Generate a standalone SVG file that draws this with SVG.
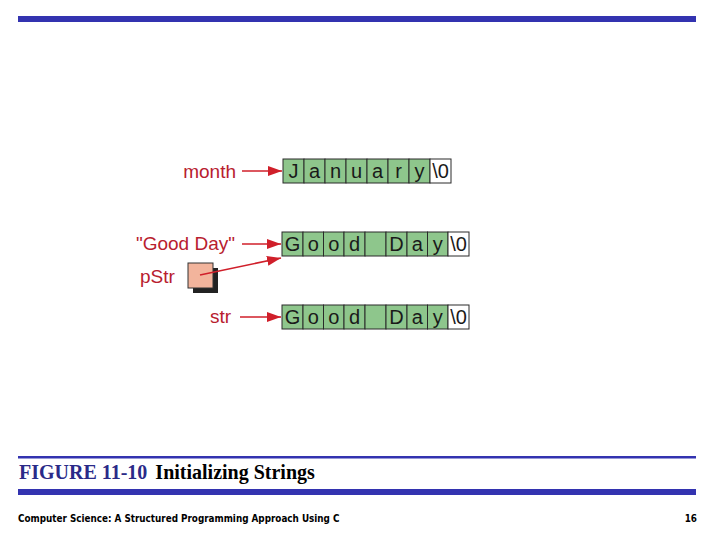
<svg xmlns="http://www.w3.org/2000/svg" width="720" height="540" viewBox="0 0 720 540">
<defs>
<style>
.lbl{font-family:"Liberation Sans",Arial,sans-serif;font-size:19px;fill:#b8202e}
.ch{font-family:"Liberation Sans",Arial,sans-serif;font-size:20px;fill:#1a1a1a;text-anchor:middle}
.cell{fill:#8ec68c;stroke:#2a2a2a;stroke-width:1}
.nul{fill:#ffffff;stroke:#2a2a2a;stroke-width:1}
.conn{stroke:#d01f2a;stroke-width:1.6;fill:none}
.bar{fill:#3333b0}
</style>
<marker id="ah" viewBox="0 0 14 10" refX="14" refY="5" markerWidth="14" markerHeight="10" markerUnits="userSpaceOnUse" orient="auto">
<path d="M0,0 L14,5 L0,10 z" fill="#d01f2a"/>
</marker>
</defs>
<rect width="720" height="540" fill="#ffffff"/>
<rect class="bar" x="18" y="16" width="678" height="6"/>

<g id="month-label"><text class="lbl" x="236" y="178" text-anchor="end">month</text></g>
<g id="month-array">
<rect class="cell" x="283" y="159" width="21" height="24"/><text class="ch" x="293.5" y="178">J</text>
<rect class="cell" x="304" y="159" width="21" height="24"/><text class="ch" x="314.5" y="178">a</text>
<rect class="cell" x="325" y="159" width="21" height="24"/><text class="ch" x="335.5" y="178">n</text>
<rect class="cell" x="346" y="159" width="21" height="24"/><text class="ch" x="356.5" y="178">u</text>
<rect class="cell" x="367" y="159" width="21" height="24"/><text class="ch" x="377.5" y="178">a</text>
<rect class="cell" x="388" y="159" width="21" height="24"/><text class="ch" x="398.5" y="178">r</text>
<rect class="cell" x="409" y="159" width="21" height="24"/><text class="ch" x="419.5" y="178">y</text>
<rect class="nul" x="430" y="159" width="21" height="24"/><text class="ch" x="440.5" y="178">\0</text>
</g>

<g id="goodday-label"><text class="lbl" x="235" y="250" text-anchor="end">"Good Day"</text></g>
<g id="goodday-array">
<rect class="cell" x="282" y="232" width="21" height="24"/><text class="ch" x="292.5" y="251">G</text>
<rect class="cell" x="303" y="232" width="20.5" height="24"/><text class="ch" x="313.3" y="251">o</text>
<rect class="cell" x="323.5" y="232" width="20.5" height="24"/><text class="ch" x="333.8" y="251">o</text>
<rect class="cell" x="344" y="232" width="21" height="24"/><text class="ch" x="354.5" y="251">d</text>
<rect class="cell" x="365" y="232" width="21" height="24"/>
<rect class="cell" x="386" y="232" width="21" height="24"/><text class="ch" x="396.5" y="251">D</text>
<rect class="cell" x="407" y="232" width="20.5" height="24"/><text class="ch" x="417.3" y="251">a</text>
<rect class="cell" x="427.5" y="232" width="20.5" height="24"/><text class="ch" x="437.8" y="251">y</text>
<rect class="nul" x="448" y="232" width="21" height="24"/><text class="ch" x="458.5" y="251">\0</text>
</g>

<g id="pStr">
<text class="lbl" x="140" y="283">pStr</text>
<rect x="193" y="268" width="25" height="25" fill="#222222"/>
<rect x="188" y="263" width="25" height="25" fill="#f2b49c" stroke="#333333" stroke-width="1"/>
</g>

<g id="str-label"><text class="lbl" x="231" y="323" text-anchor="end">str</text></g>
<g id="str-array">
<rect class="cell" x="282" y="305" width="21" height="24"/><text class="ch" x="292.5" y="324">G</text>
<rect class="cell" x="303" y="305" width="20.5" height="24"/><text class="ch" x="313.3" y="324">o</text>
<rect class="cell" x="323.5" y="305" width="20.5" height="24"/><text class="ch" x="333.8" y="324">o</text>
<rect class="cell" x="344" y="305" width="21" height="24"/><text class="ch" x="354.5" y="324">d</text>
<rect class="cell" x="365" y="305" width="21" height="24"/>
<rect class="cell" x="386" y="305" width="21" height="24"/><text class="ch" x="396.5" y="324">D</text>
<rect class="cell" x="407" y="305" width="20.5" height="24"/><text class="ch" x="417.3" y="324">a</text>
<rect class="cell" x="427.5" y="305" width="20.5" height="24"/><text class="ch" x="437.8" y="324">y</text>
<rect class="nul" x="448" y="305" width="21" height="24"/><text class="ch" x="458.5" y="324">\0</text>
</g>

<g id="connectors">
<line class="conn" x1="242" y1="171" x2="282" y2="171" marker-end="url(#ah)"/>
<line class="conn" x1="242" y1="244" x2="281" y2="244" marker-end="url(#ah)"/>
<line class="conn" x1="200" y1="275" x2="281" y2="258" marker-end="url(#ah)"/>
<line class="conn" x1="240" y1="317" x2="281" y2="317" marker-end="url(#ah)"/>
</g>

<rect x="18" y="456" width="678" height="2.5" fill="#3333b0"/>
<text x="19" y="479" font-family="Liberation Serif,'Times New Roman',serif" font-size="20" font-weight="bold"><tspan fill="#2a2a88">FIGURE 11-10</tspan><tspan fill="#000000" dx="8">Initializing Strings</tspan></text>
<rect class="bar" x="18" y="489" width="678" height="6"/>
<text x="18" y="522" font-family="'DejaVu Sans Condensed','DejaVu Sans',sans-serif" font-size="9.8" font-weight="bold" fill="#000000">Computer Science: A Structured Programming Approach Using C</text>
<text x="697" y="522" font-family="'DejaVu Sans Condensed','DejaVu Sans',sans-serif" font-size="9.8" font-weight="bold" fill="#000000" text-anchor="end">16</text>
</svg>
